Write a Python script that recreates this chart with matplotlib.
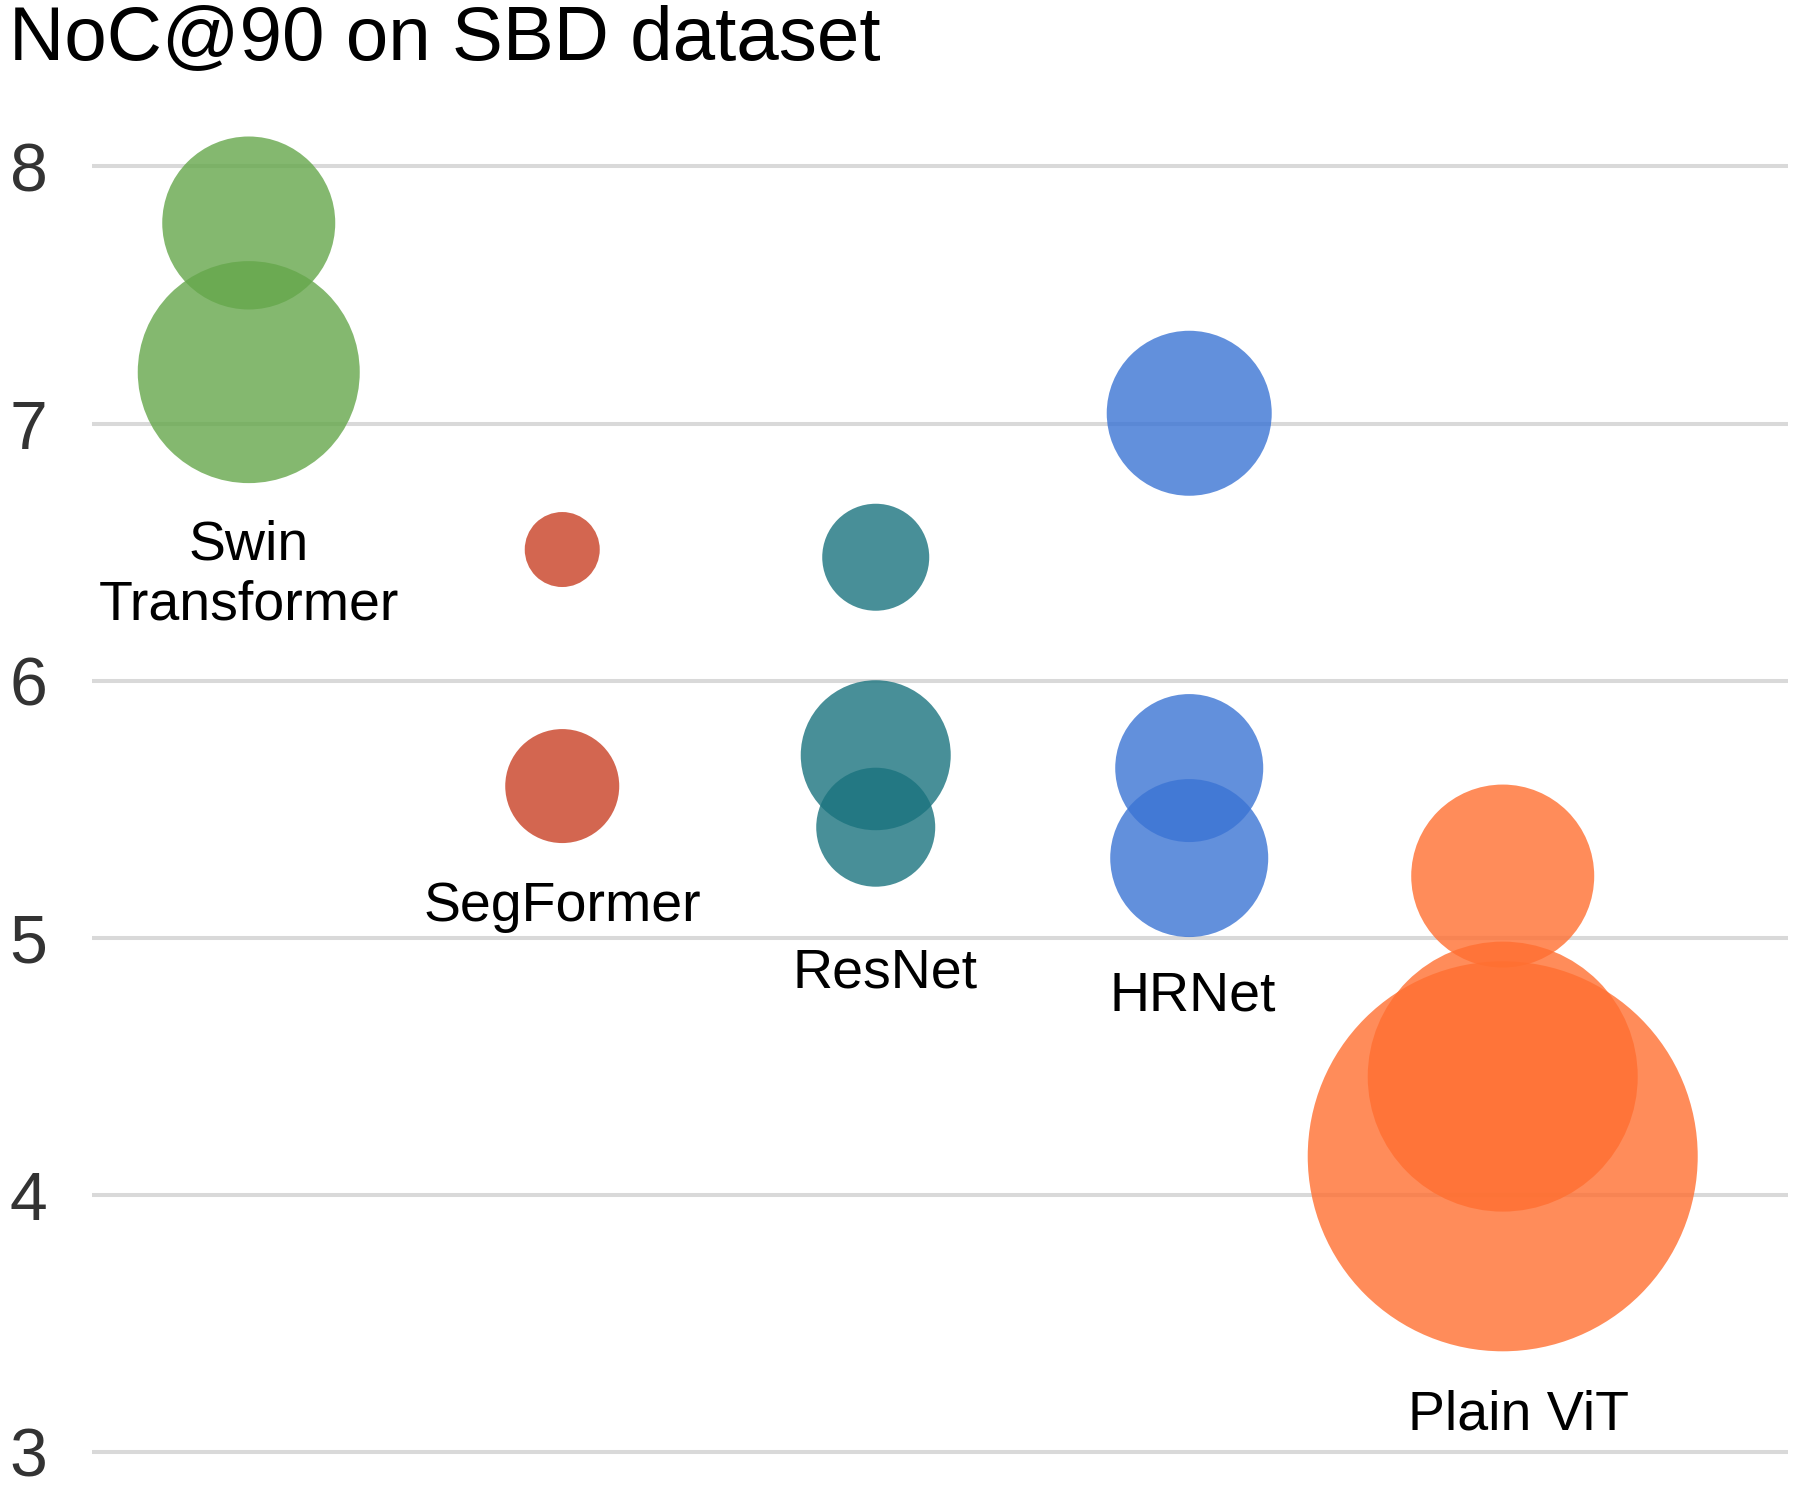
import matplotlib
matplotlib.use("Agg")
import matplotlib.pyplot as plt
import numpy as np

plt.rcParams['font.family'] = ['Liberation Sans', 'DejaVu Sans']

# ---- data ----
categories = ["Swin\nTransformer", "SegFormer", "ResNet", "HRNet", "Plain ViT"]
colors = ["#65A74B", "#C84024", "#1A737E", "#3B74D4", "#FF6F31"]

# NoC@90 values per backbone family (one bubble per model)
noc_swin = [7.78, 7.20]
noc_segformer = [6.51, 5.59]
noc_resnet = [6.48, 5.71, 5.43]
noc_hrnet = [7.04, 5.66, 5.31]
noc_vit = [5.24, 4.46, 4.15]

# bubble diameters (relative model size)
size_swin = [173, 222]
size_segformer = [75, 114]
size_resnet = [107, 150, 119]
size_hrnet = [165, 148, 158]
size_vit = [183, 270, 390]

yticks = [3, 4, 5, 6, 7, 8]
title = "NoC@90 on SBD dataset"

# label anchors (x index, y value)
label_pos = [(0.0, 6.41), (1.0, 5.12), (2.03, 4.86), (3.01, 4.77), (4.05, 3.14)]

# ---- plot ----
W, H, DPI = 1800, 1487, 100
fig = plt.figure(figsize=(W / DPI, H / DPI), dpi=DPI)
ax = fig.add_axes([92 / W, 0.00625, (1788 - 92) / W, 0.9337])

groups = [(noc_swin, size_swin), (noc_segformer, size_segformer),
          (noc_resnet, size_resnet), (noc_hrnet, size_hrnet), (noc_vit, size_vit)]

px_to_pt = 72.0 / DPI
for i, (vals, sizes) in enumerate(groups):
    xs = np.full(len(vals), i)
    s = (np.array(sizes) * px_to_pt) ** 2
    ax.scatter(xs, vals, s=s, color=colors[i], alpha=0.8, edgecolors='none',
               zorder=3, clip_on=False)

for (lx, ly), name in zip(label_pos, categories):
    ax.text(lx, ly, name, ha='center', va='center', fontsize=40,
            color='#000000', linespacing=1.2, zorder=4)

ax.set_xlim(-0.5, 4.91)
ax.set_ylim(2.9, 8.3)
ax.set_yticks(yticks)
ax.set_yticklabels([str(t) for t in yticks])
ax.set_xticks([])
ax.grid(axis='y', color='#D9D9D9', linewidth=2.9, zorder=0)
ax.set_axisbelow(True)
for sp in ax.spines.values():
    sp.set_visible(False)
ax.tick_params(axis='y', length=0, pad=32, labelsize=49, labelcolor='#333333')

fig.text(9 / W, 1 - 4 / H, title, ha='left', va='top', fontsize=55, color='#000000')

fig.savefig("out.png", dpi=DPI)
